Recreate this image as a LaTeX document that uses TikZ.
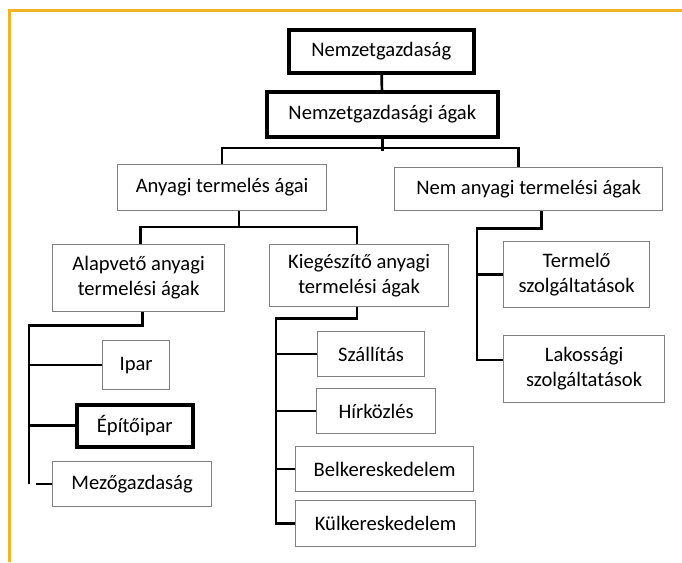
\documentclass[tikz,border=0pt]{standalone}
\usepackage{fontspec}
\setmainfont{Carlito}
\usetikzlibrary{positioning}
\definecolor{frameorange}{HTML}{F5B223}
\definecolor{boxgray}{HTML}{808080}
\tikzstyle{box}=[draw=boxgray,line width=1.2pt,align=center,anchor=north west,inner sep=0pt,font=\fontsize{20.6}{25}\selectfont]
\tikzstyle{thickbox}=[box,draw=black,line width=3.6pt]
\tikzstyle{conn}=[line width=2.7pt]

\begin{document}
\begin{tikzpicture}[x=1pt,y=-1pt]
  \useasboundingbox (0,0) rectangle (682,562);
  \draw[frameorange,line width=3pt] (9,562) -- (9,10) -- (682,10);

  \node[thickbox,minimum width=185pt,minimum height=43pt] (nemzet)    at (287,28)  {Nemzetgazdaság};
  \node[thickbox,minimum width=231pt,minimum height=45pt] (nga)       at (265,90)  {Nemzetgazdasági ágak};
  \node[box,minimum width=209pt,minimum height=46pt]      (anyagi)    at (117,164) {Anyagi termelés ágai};
  \node[box,minimum width=268pt,minimum height=43pt]      (nemanyagi) at (394,167) {Nem anyagi termelési ágak};
  \node[box,minimum width=172pt,minimum height=67pt]      (alap)      at (52,244)  {Alapvető anyagi\\termelési ágak};
  \node[box,minimum width=179pt,minimum height=62pt]      (kieg)      at (269,244) {Kiegészítő anyagi\\termelési ágak};
  \node[box,minimum width=146pt,minimum height=66pt]      (termelo)   at (503,241) {Termelő\\szolgáltatások};
  \node[box,minimum width=161pt,minimum height=67pt]      (lakos)     at (503,335) {Lakossági\\szolgáltatások};
  \node[box,minimum width=67pt,minimum height=49pt]       (ipar)      at (102,340) {Ipar};
  \node[thickbox,minimum width=116pt,minimum height=42pt] (epito)     at (75,403)  {Építőipar};
  \node[box,minimum width=159pt,minimum height=45pt]      (mezo)      at (52,461)  {Mezőgazdaság};
  \node[box,minimum width=107pt,minimum height=45pt]      (szall)     at (317,331) {Szállítás};
  \node[box,minimum width=119pt,minimum height=45pt]      (hir)       at (316,388) {Hírközlés};
  \node[box,minimum width=178pt,minimum height=45pt]      (belk)      at (295,446) {Belkereskedelem};
  \node[box,minimum width=180pt,minimum height=46pt]      (kulk)      at (295,500) {Külkereskedelem};

  \coordinate (alapx)  at (29,0);
  \coordinate (kiegx)  at (276,0);
  \coordinate (nemx)   at (477,0);
  \coordinate (lakosy) at (0,360);

  \draw[conn] (nemzet) -- (nga);
  \draw[conn] (nga.south) -- ++(0,12);
  \draw[conn] (anyagi.north) -- ++(0,-16) -| ([xshift=-10pt]nemanyagi.north);

  \draw[conn] ([xshift=17pt]anyagi.south) -- ++(0,17);
  \draw[conn] ([xshift=2pt]alap.north) -- ++(0,-17) -| ([xshift=-2pt]kieg.north);

  \draw[conn] ([xshift=4pt]alap.south) -- ++(0,13) -| (mezo.west -| alapx);
  \draw[conn] (ipar.west) -- (ipar.west -| alapx);
  \draw[conn] (epito.west) -- (epito.west -| alapx);
  \draw[conn] (mezo.west) -- ++(-16,0);

  \draw[conn] ([xshift=-2pt]kieg.south) -- ++(0,11) -| (kulk.west -| kiegx) -- (kulk.west);
  \draw[conn] (szall.west) -- (szall.west -| kiegx);
  \draw[conn] (hir.west) -- (hir.west -| kiegx);
  \draw[conn] (belk.west) -- (belk.west -| kiegx);

  \draw[conn] ([xshift=13pt]nemanyagi.south) -- ++(0,17) -| (lakosy -| nemx) -- (lakosy -| lakos.west);
  \draw[conn] (termelo.west) -- (termelo.west -| nemx);
\end{tikzpicture}
\end{document}
